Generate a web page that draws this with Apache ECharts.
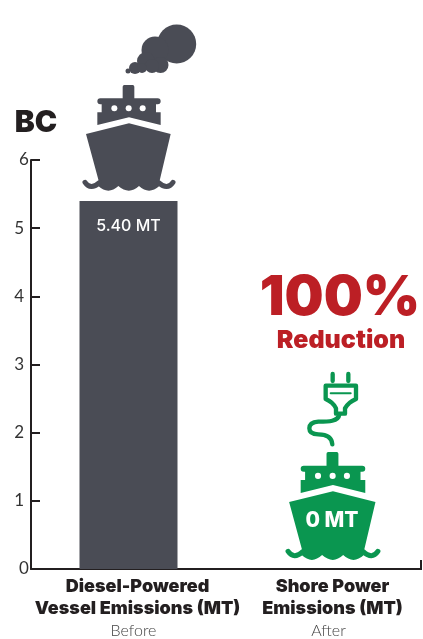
<!DOCTYPE html>
<html>
<head>
<meta charset="utf-8">
<style>
  html, body { margin: 0; padding: 0; background: #fff; }
  #chart { width: 423px; height: 639px; }
</style>
</head>
<body>
<div id="chart"></div>
<script src="https://cdn.jsdelivr.net/npm/echarts@6/dist/echarts.min.js"></script>
<script>
const categories = ['Diesel-Powered\nVessel Emissions (MT)', 'Shore Power\nEmissions (MT)']
const periods = ['Before', 'After']
const emissions = [5.4, 0]
const valueLabels = ['5.40 MT', '0 MT']

const FONT = 'Inter, "Noto Sans", sans-serif'
const LIGHT_FONT = 'Lato, "Open Sans", sans-serif'
const INK = '#231f20'
const SLATE = '#4a4c55'
const GREEN = '#0a9650'
const RED = '#bc1f25'

// the graphic component has no plain path type, so icon outlines get registered as shapes
const iconPaths = {
  hull: 'M18 162 L147 130 L272 162 L238 306 L238 318 Q207 346 177 318 Q147 346 115 318 Q85 346 55 318 L57 306 Z',
  cabin: 'M133 15 L158 15 Q163 15 163 20 L163 55 L233 55 A9 9 0 0 1 233 73 L228 73 L228 97 L242 97 L242 135 L147 112 L52 135 L52 97 L65 97 L65 73 L61 73 A9 9 0 0 1 61 55 L128 55 L128 20 Q128 15 133 15 Z',
  waveLeft: 'M15 307 Q32 332 58 308',
  waveRight: 'M279 307 Q262 332 236 308',
  prongLeft: 'M98 27 L98 48',
  prongRight: 'M145 27 L145 48',
  plugHead: 'M77 62 L168 62 L168 102 Q145 112 135 130 L135 146 L108 146 L108 130 Q100 112 77 102 Z',
  plugBar: 'M92 85 L152 85',
  cable: 'M118 148 C115 170 85 170 55 170 Q28 172 28 190 Q28 208 55 208 Q95 208 97 238',
}
Object.keys(iconPaths).forEach(name => {
  echarts.graphic.registerShape(name, echarts.graphic.extendPath(iconPaths[name], {}))
})

function shipIcon(x, y, scale, color) {
  const holes = [103, 146, 188].map(cx => ({
    type: 'circle',
    shape: { cx, cy: 85, r: 9 },
    style: { fill: '#fff' },
  }))
  const wave = type => ({
    type,
    style: { fill: null, stroke: color, lineWidth: 15, lineCap: 'round' },
  })
  return {
    type: 'group',
    x,
    y,
    scaleX: scale,
    scaleY: scale,
    children: [
      { type: 'cabin', style: { fill: color } },
      ...holes,
      { type: 'hull', style: { fill: color } },
      wave('waveLeft'),
      wave('waveRight'),
    ],
  }
}

function smoke() {
  const puffs = [
    [176.7, 44, 19.5], [155, 50, 13.5], [146, 61, 9], [160.5, 65, 8],
    [152, 66, 7], [135, 68, 6], [142, 68, 5], [128, 71, 2.5],
  ]
  return puffs.map(p => ({
    type: 'circle',
    shape: { cx: p[0], cy: p[1], r: p[2] },
    style: { fill: SLATE },
  }))
}

function plugIcon(x, y) {
  const line = (type, w) => ({
    type,
    style: { fill: null, stroke: GREEN, lineWidth: w, lineCap: 'round', lineJoin: 'round' },
  })
  return {
    type: 'group',
    x,
    y,
    scaleX: 1 / 3,
    scaleY: 1 / 3,
    children: [
      line('prongLeft', 13),
      line('prongRight', 13),
      line('plugHead', 13),
      line('plugBar', 6),
      line('cable', 13),
    ],
  }
}

const chart = echarts.init(document.getElementById('chart'), null, { renderer: 'canvas' })
chart.setOption({
  animation: false,
  backgroundColor: '#fff',
  grid: { left: 31, top: 160, width: 390, height: 409 },
  xAxis: {
    type: 'category',
    data: categories,
    axisLine: { lineStyle: { color: INK, width: 2 } },
    axisTick: { show: false },
    axisLabel: {
      interval: 0,
      margin: 7,
      padding: [0, 0, 0, 18],
      formatter: (value, index) => {
        const lines = value.split('\n').map(l => `{name|${l}}`)
        return `${lines.join('\n')}\n{period|${periods[index]}}`
      },
      rich: {
        name: { fontFamily: FONT, fontWeight: 900, fontSize: 18, lineHeight: 22, color: INK },
        period: { fontFamily: LIGHT_FONT, fontWeight: 300, fontSize: 16, lineHeight: 22, color: '#444', padding: [0, 8, 0, 0] },
      },
    },
  },
  yAxis: {
    type: 'value',
    min: 0,
    max: 6,
    interval: 1,
    name: 'BC',
    nameLocation: 'end',
    nameGap: 22,
    nameTextStyle: { fontFamily: FONT, fontWeight: 900, fontSize: 30, color: INK, padding: [0, 0, 0, 10] },
    axisLine: { show: true, lineStyle: { color: INK, width: 2 } },
    axisTick: { show: true, inside: true, length: 9, lineStyle: { color: INK, width: 2 } },
    axisLabel: { margin: 7, fontFamily: LIGHT_FONT, fontSize: 17, color: '#333', alignMinLabel: 'middle', alignMaxLabel: 'middle' },
    splitLine: { show: false },
  },
  series: [
    {
      type: 'bar',
      barWidth: 98,
      data: emissions.map((value, i) => (value > 0 ? value : {
        value,
        label: { fontSize: 21, fontWeight: 800 },
      })),
      itemStyle: { color: SLATE },
      label: {
        show: true,
        formatter: p => valueLabels[p.dataIndex],
        position: 'insideTop',
        distance: 17,
        fontFamily: FONT,
        fontSize: 16,
        fontWeight: 500,
        color: '#fff',
      },
      labelLayout: p => (p.dataIndex === 1 ? { x: 332, y: 521, align: 'center', verticalAlign: 'middle' } : {}),
    },
  ],
  graphic: [
    { type: 'group', children: smoke() },
    shipIcon(80, 80, 1 / 3, SLATE),
    plugIcon(300, 365),
    shipIcon(283, 447, 0.34, GREEN),
    {
      type: 'text',
      x: 340,
      y: 298,
      style: { text: '100%', fontFamily: FONT, fontWeight: 900, fontSize: 55, fill: RED, align: 'center', verticalAlign: 'middle' },
    },
    {
      type: 'text',
      x: 341,
      y: 340,
      style: { text: 'Reduction', fontFamily: FONT, fontWeight: 900, fontSize: 25, fill: RED, align: 'center', verticalAlign: 'middle' },
    },
    // closing tick at the right end of the x axis
    { type: 'line', shape: { x1: 421, y1: 560, x2: 421, y2: 570 }, style: { stroke: INK, lineWidth: 2 } },
  ],
})
</script>
</body>
</html>
